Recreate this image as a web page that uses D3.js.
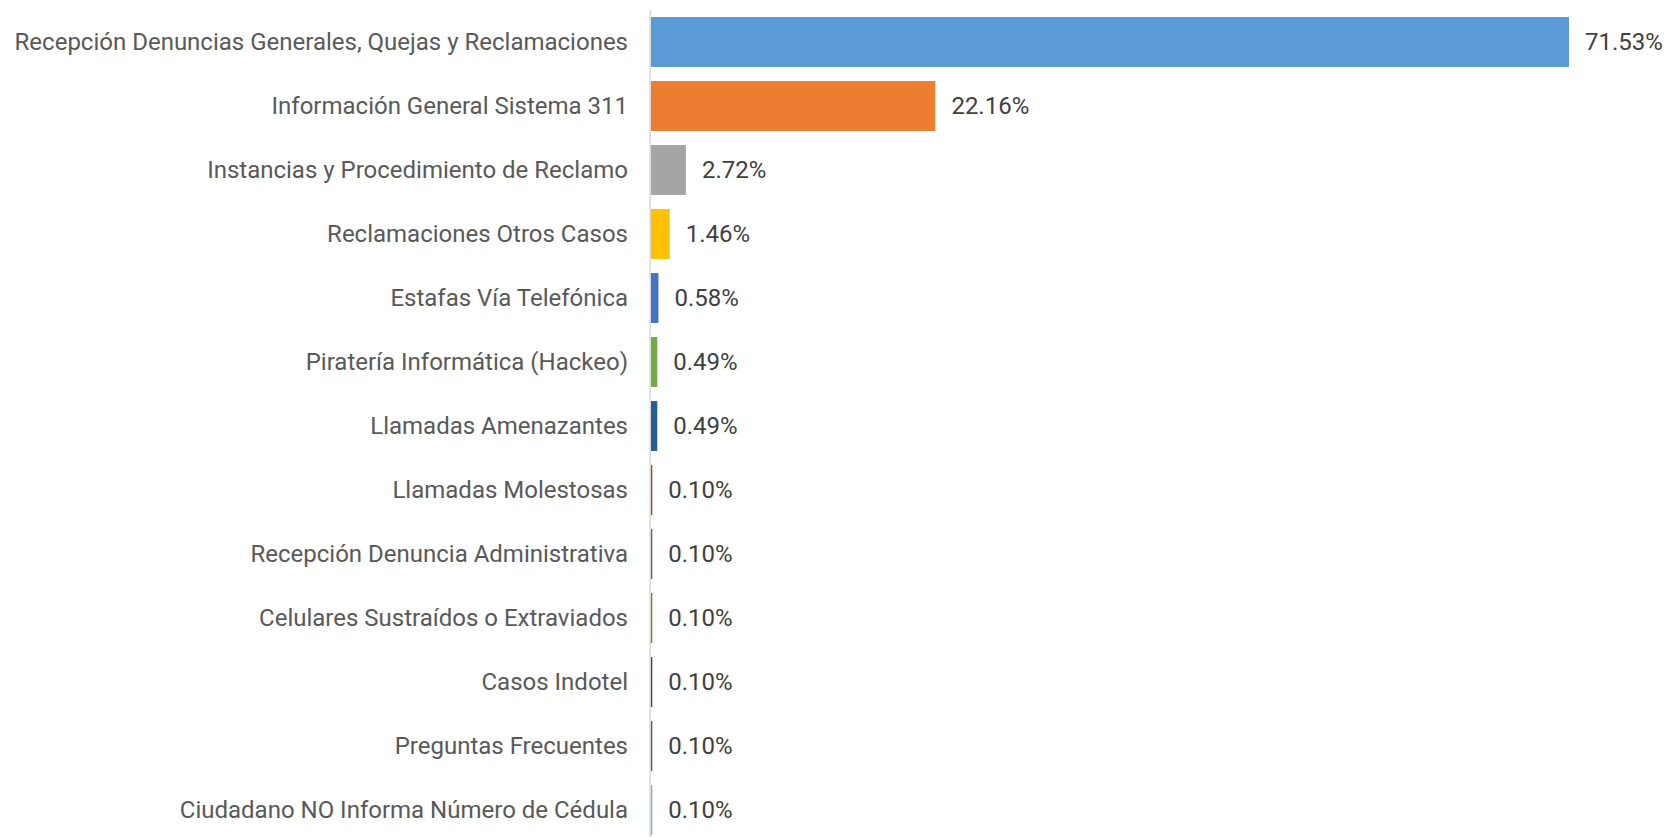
<!DOCTYPE html>
<html>
<head>
<meta charset="utf-8">
<script src="https://cdn.jsdelivr.net/npm/d3@7"></script>
<style>
    body { margin: 0; background: #fff; }
    svg { display: block; }
</style>
</head>
<body>
<svg id="chart"></svg>
<script>
// Data
const categories = [
    "Recepción Denuncias Generales, Quejas y Reclamaciones",
    "Información General Sistema 311",
    "Instancias y Procedimiento de Reclamo",
    "Reclamaciones Otros Casos",
    "Estafas Vía Telefónica",
    "Piratería Informática (Hackeo)",
    "Llamadas Amenazantes",
    "Llamadas Molestosas",
    "Recepción Denuncia Administrativa",
    "Celulares Sustraídos o Extraviados",
    "Casos Indotel",
    "Preguntas Frecuentes",
    "Ciudadano NO Informa Número de Cédula"
];
const values = [71.53, 22.16, 2.72, 1.46, 0.58, 0.49, 0.49, 0.10, 0.10, 0.10, 0.10, 0.10, 0.10];
const colors = [
    "#5B9BD5", "#ED7D31", "#A5A5A5", "#FFC000", "#4472C4", "#70AD47",
    "#255E91", "#9E480E", "#636363", "#997300", "#264478", "#43682B", "#7CAFDD"
];

const width = 1667;
const height = 837;
const margin = { top: 10, right: 0, bottom: 0, left: 651 };

const svg = d3.select("#chart")
    .attr("width", width)
    .attr("height", height);

const g = svg.append("g")
    .attr("transform", `translate(${margin.left},${margin.top})`);

// Scales
const x = d3.scaleLinear()
    .domain([0, 71.53])
    .range([0, 918]);

const y = d3.scaleBand()
    .domain(categories)
    .range([0, 13 * 64])
    .paddingInner(0.22)
    .paddingOuter(0.11);

// Bars
g.selectAll("rect")
    .data(values)
    .join("rect")
    .attr("x", 0)
    .attr("y", (d, i) => y(categories[i]))
    .attr("width", d => x(d))
    .attr("height", y.bandwidth())
    .attr("fill", (d, i) => colors[i]);

// Axis (category labels)
const axis = g.append("g")
    .call(d3.axisLeft(y).tickSize(0).tickPadding(23));
axis.select(".domain").remove();
axis.selectAll("text")
    .attr("fill", "#595959")
    .attr("dy", "0.33em")
    .style("font-family", "Roboto, sans-serif")
    .style("font-size", "24px");

// vertical axis line
g.append("line")
    .attr("x1", -0.8).attr("x2", -0.8)
    .attr("y1", 0).attr("y2", 13 * 64)
    .attr("stroke", "#d9d9d9")
    .attr("stroke-width", 1.6);

// Value labels
g.selectAll(".val")
    .data(values)
    .join("text")
    .attr("class", "val")
    .attr("x", d => x(d) + 16)
    .attr("y", (d, i) => y(categories[i]) + y.bandwidth() / 2)
    .attr("dy", "0.35em")
    .attr("fill", "#404040")
    .style("font-family", "Roboto, sans-serif")
    .style("font-size", "24px")
    .text(d => d.toFixed(2) + "%");
</script>
</body>
</html>
